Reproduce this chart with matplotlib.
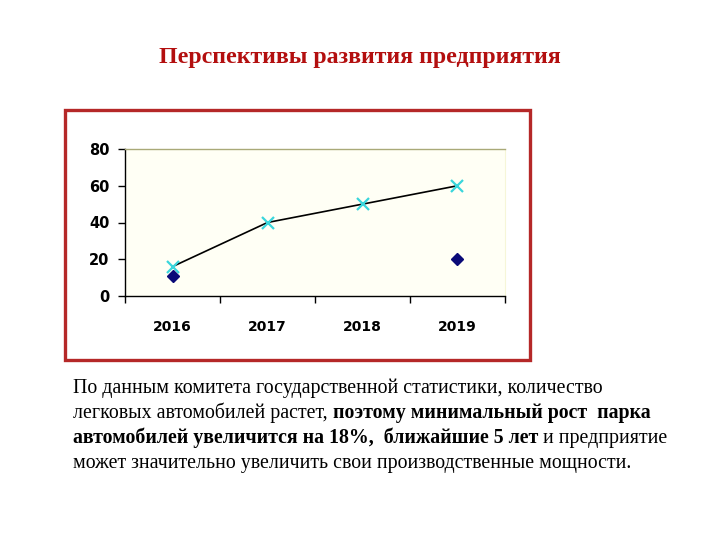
import matplotlib
matplotlib.use("Agg")
import matplotlib.pyplot as plt
from matplotlib.patches import Rectangle

# --- data ---
years = ["2016", "2017", "2018", "2019"]
trend = [16, 40, 50, 60]
points_years = ["2016", "2019"]
points_vals = [11, 20]
yticks = [0, 20, 40, 60, 80]

title = "Перспективы развития предприятия"
body_lines = [
    [("По данным комитета государственной статистики, количество", "normal")],
    [("легковых автомобилей растет,", "normal"),
     (" поэтому минимальный рост  парка", "bold")],
    [("автомобилей увеличится на 18%,  ближайшие 5 лет", "bold"),
     (" и предприятие", "normal")],
    [("может значительно увеличить свои производственные мощности.", "normal")],
]

fig = plt.figure(figsize=(7.2, 5.4), dpi=100)
fig.set_facecolor("white")

# red frame around the chart
frame = Rectangle((65 / 720, 1 - 360 / 540), 465 / 720, 250 / 540,
                  transform=fig.transFigure, facecolor="white",
                  edgecolor="#b52828", linewidth=2.4, zorder=-1)
fig.patches.append(frame)

ax = fig.add_axes([125 / 720, 1 - 296 / 540, 380 / 720, 147 / 540])
ax.set_facecolor("#fffff5")

xpos = [i + 0.5 for i in range(len(years))]
ax.plot(xpos, trend, color="black", lw=1.2, zorder=2)
ax.plot(xpos, trend, ls="none", marker="x", ms=9, mew=1.6,
        color="#3ad6dc", zorder=3)
px = [years.index(y) + 0.5 for y in points_years]
ax.plot(px, points_vals, ls="none", marker="D", ms=6, color="#0a0a78", zorder=3)

ax.set_xlim(0, len(years))
ax.set_ylim(0, 80)
ax.set_yticks(yticks)
ax.set_yticklabels([str(v) for v in yticks], fontweight="bold", fontsize=10.5)
ax.set_xticks(range(len(years) + 1))
ax.set_xticklabels([])
ax.set_xticks(xpos, minor=True)
ax.set_xticklabels(years, minor=True, fontweight="bold", fontsize=10)
ax.tick_params(axis="x", which="major", direction="out", length=5, width=1)
ax.tick_params(axis="x", which="minor", length=0, pad=17)
ax.tick_params(axis="y", direction="out", length=5, width=1, pad=6)

for s in ["left", "bottom"]:
    ax.spines[s].set_color("black")
    ax.spines[s].set_linewidth(1)
ax.spines["top"].set_color("#a9a978")
ax.spines["top"].set_linewidth(1)
ax.spines["right"].set_color("#f6f6d8")

fig.text(0.5, 1 - 57 / 540, title, ha="center", va="center",
         family="Liberation Serif", fontweight="bold", fontsize=17.2,
         color="#b30f0f")

# body text with mixed weights, placed piece by piece
renderer = fig.canvas.get_renderer()
FS = 14.35


def text_width(s, weight):
    t = fig.text(0, 0, s, family="Liberation Serif", fontsize=FS, fontweight=weight)
    w = t.get_window_extent(renderer).width
    t.remove()
    return w


x0 = 73
base = 393
for i, line in enumerate(body_lines):
    x = x0
    y = base + i * 25
    for seg, weight in line:
        sw = text_width("x x", weight) - text_width("xx", weight)
        lead = len(seg) - len(seg.lstrip(" "))
        x += lead * sw
        s = seg.strip(" ")
        fig.text(x / 720, 1 - y / 540, s, ha="left", va="baseline",
                 family="Liberation Serif", fontsize=FS, fontweight=weight,
                 color="black")
        x += text_width(s, weight)

fig.savefig("out.png", dpi=100, facecolor="white")
